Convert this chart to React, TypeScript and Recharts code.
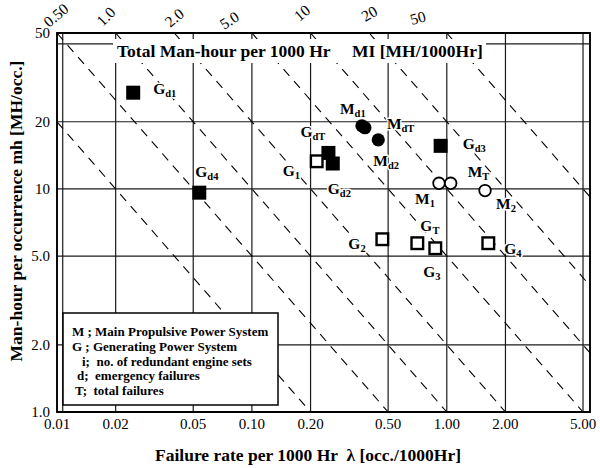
import React from 'react';
import {
  ScatterChart,
  Scatter,
  XAxis,
  YAxis,
  CartesianGrid,
  ReferenceLine,
  ReferenceDot,
  ReferenceArea,
} from 'recharts';

const FONT = '"Liberation Serif", "DejaVu Serif", serif';

// ---------- axes ----------
const xTicks = [0.01, 0.02, 0.05, 0.1, 0.2, 0.5, 1, 2, 5];
const xTickLabels = ['0.01', '0.02', '0.05', '0.10', '0.20', '0.50', '1.00', '2.00', '5.00'];
const yTicks = [1, 2, 5, 10, 20, 50];
const yTickLabels = ['1.0', '2.0', '5.0', '10', '20', '50'];
const xDomain: [number, number] = [0.01, 5.43];
const yDomain: [number, number] = [1, 50];

// ---------- iso-MI dashed lines (MI = lambda * mh) ----------
const miLines = [0.2, 0.5, 1, 2, 5, 10, 20, 50];
const miLabelValues = [0.5, 1, 2, 5, 10, 20, 50];
const miLabelTexts = ['0.50', '1.0', '2.0', '5.0', '10', '20', '50'];

// ---------- data: lambda [occ./1000Hr], mh [MH/occ.] ----------
const genEmergency = [
  { name: 'Gd1', lambda: 0.0246, mh: 27.0 },
  { name: 'Gd4', lambda: 0.0537, mh: 9.62 },
  { name: 'GdT', lambda: 0.247, mh: 14.5 },
  { name: 'Gd2', lambda: 0.26, mh: 13.0 },
  { name: 'Gd3', lambda: 0.93, mh: 15.6 },
];
const genTotal = [
  { name: 'G1', lambda: 0.215, mh: 13.3 },
  { name: 'G2', lambda: 0.467, mh: 5.95 },
  { name: 'GT', lambda: 0.706, mh: 5.71 },
  { name: 'G3', lambda: 0.873, mh: 5.42 },
  { name: 'G4', lambda: 1.633, mh: 5.71 },
];
const mainEmergency = [
  { name: 'Md1', lambda: 0.367, mh: 19.2 },
  { name: 'MdT', lambda: 0.38, mh: 18.8 },
  { name: 'Md2', lambda: 0.445, mh: 16.6 },
];
const mainTotal = [
  { name: 'M1', lambda: 0.912, mh: 10.6 },
  { name: 'MT', lambda: 1.047, mh: 10.6 },
  { name: 'M2', lambda: 1.571, mh: 9.83 },
];

const legendLines = [
  'M ; Main Propulsive Power System',
  'G ; Generating Power System',
  'i;  no. of redundant engine sets',
  'd;  emergency failures',
  'T;  total failures',
];

// ---------- styling (label placement relative to marker centre) ----------
const labelOffset: Record<string, [number, number]> = {
  Gd1: [20, 1], Gd4: [-4, -16], GdT: [-28, -16], Gd2: [-5, 30], Gd3: [22, 3],
  G1: [-34, 15], G2: [-34, 10], GT: [3, -12], G3: [-12, 29], G4: [16, 11],
  Md1: [-22, -12], MdT: [22, 1], Md2: [-5, 26],
  M1: [-24, 21], MT: [17, -6], M2: [11, 18],
};
const miLabelStyle: Record<string, { dx: number; dy: number; rot: number }> = {
  '0.50': { dx: -8, dy: -5, rot: -40 },
  '1.0': { dx: -13, dy: -6, rot: -45 },
  '2.0': { dx: -4, dy: -5, rot: -40 },
  '5.0': { dx: -28, dy: -3, rot: -32 },
  '10': { dx: -11, dy: -11, rot: -40 },
  '20': { dx: -4, dy: -11, rot: -30 },
  '50': { dx: -35, dy: -8, rot: -15 },
};

type Kind = 'fsq' | 'osq' | 'fc' | 'oc';

const makeShape = (kind: Kind) => (props: any) => {
  const { cx, cy, payload } = props;
  if (cx == null || cy == null || !payload) return <g />;
  const off = labelOffset[payload.name] || [10, 0];
  let mark: React.ReactNode = null;
  if (kind === 'fsq') mark = <rect x={cx - 7} y={cy - 7} width={14} height={14} fill="#000" />;
  if (kind === 'osq')
    mark = <rect x={cx - 5.8} y={cy - 5.8} width={11.6} height={11.6} fill="#fff" stroke="#000" strokeWidth={2.4} />;
  if (kind === 'fc') mark = <circle cx={cx} cy={cy} r={6.6} fill="#000" />;
  if (kind === 'oc') mark = <circle cx={cx} cy={cy} r={5.8} fill="#fff" stroke="#000" strokeWidth={1.8} />;
  const base = payload.name.slice(0, 1);
  const sub = payload.name.slice(1);
  return (
    <g>
      {mark}
      <text
        x={cx + off[0]}
        y={cy + off[1]}
        fontFamily={FONT}
        fontWeight="bold"
        fontSize={15.5}
        fill="#000"
        stroke="#fff"
        strokeWidth={3}
        paintOrder="stroke"
        strokeLinejoin="round"
      >
        {base}
        <tspan fontSize={10.5} dy={3}>
          {sub}
        </tspan>
      </text>
    </g>
  );
};

const miSegment = (mi: number) => {
  const x1 = Math.max(xDomain[0], mi / yDomain[1]);
  const x2 = Math.min(xDomain[1], mi / yDomain[0]);
  return [
    { x: x1, y: mi / x1 },
    { x: x2, y: mi / x2 },
  ];
};

const MiLabel = (text: string) => (props: any) => {
  const vb = props.viewBox || {};
  const cx = (vb.x || 0) + (vb.width || 0) / 2;
  const cy = (vb.y || 0) + (vb.height || 0) / 2;
  const s = miLabelStyle[text];
  const x = cx + s.dx;
  const y = cy + s.dy;
  return (
    <text
      x={x}
      y={y}
      transform={`rotate(${s.rot} ${x} ${y})`}
      fontFamily={FONT}
      fontSize={15.5}
      fill="#000"
    >
      {text}
    </text>
  );
};

const tickStyle = { fontFamily: FONT, fontSize: 15, fill: '#000' };

export default function App() {
  return (
    <div style={{ position: 'absolute', left: 0, top: 0, width: 600, height: 468, background: '#fff' }}>
      <ScatterChart width={600} height={468} margin={{ top: 33, right: 10, bottom: 0, left: 0 }}>
        <CartesianGrid stroke="#1a1a1a" strokeWidth={1.2} />
        <XAxis
          type="number"
          dataKey="lambda"
          scale="log"
          domain={xDomain}
          allowDataOverflow
          ticks={xTicks}
          interval={0}
          tickFormatter={(v: number) => xTickLabels[xTicks.indexOf(v)] ?? String(v)}
          height={56}
          axisLine={false}
          tickLine={false}
          tickSize={0}
          tickMargin={6}
          tick={tickStyle}
        />
        <YAxis
          type="number"
          dataKey="mh"
          scale="log"
          domain={yDomain}
          allowDataOverflow
          ticks={yTicks}
          interval={0}
          tickFormatter={(v: number) => yTickLabels[yTicks.indexOf(v)] ?? String(v)}
          width={57}
          axisLine={false}
          tickLine={false}
          tickSize={0}
          tickMargin={7}
          tick={tickStyle}
        />
        {/* inner frame lines */}
        <ReferenceLine x={0.0107} stroke="#1a1a1a" strokeWidth={1.2} ifOverflow="visible" />
        <ReferenceLine y={44.7} stroke="#1a1a1a" strokeWidth={1.2} ifOverflow="visible" />
        {miLines.map((mi) => (
          <ReferenceLine
            key={`mi-${mi}`}
            segment={miSegment(mi)}
            stroke="#000"
            strokeWidth={1.1}
            strokeDasharray="9 7"
            ifOverflow="visible"
          />
        ))}
        <ReferenceArea
          x1={xDomain[0]}
          x2={xDomain[1]}
          y1={yDomain[0]}
          y2={yDomain[1]}
          fill="none"
          fillOpacity={0}
          stroke="#000"
          strokeWidth={1.8}
          ifOverflow="visible"
        />
        {miLabelValues.map((mi, i) => (
          <ReferenceDot
            key={`mil-${mi}`}
            x={mi / yDomain[1]}
            y={yDomain[1]}
            r={0}
            fill="none"
            stroke="none"
            ifOverflow="visible"
            label={MiLabel(miLabelTexts[i])}
          />
        ))}
        <Scatter data={genEmergency} shape={makeShape('fsq')} isAnimationActive={false} />
        <Scatter data={mainEmergency} shape={makeShape('fc')} isAnimationActive={false} />
        <Scatter data={genTotal} shape={makeShape('osq')} isAnimationActive={false} />
        <Scatter data={mainTotal} shape={makeShape('oc')} isAnimationActive={false} />
      </ScatterChart>

      <svg
        width={600}
        height={468}
        style={{ position: 'absolute', left: 0, top: 0, pointerEvents: 'none' }}
        fontFamily={FONT}
      >
        {/* chart title inside plot */}
        <rect x={113} y={39} width={373} height={24} fill="#fff" />
        <text x={117} y={57} fontSize={17.5} fontWeight="bold" fill="#000">
          Total Man-hour per 1000 Hr
        </text>
        <text x={352} y={57} fontSize={17.5} fontWeight="bold" fill="#000">
          MI [MH/1000Hr]
        </text>

        {/* axis titles */}
        <text
          x={308}
          y={461}
          textAnchor="middle"
          fontSize={17.5}
          fontWeight="bold"
          fill="#000"
          style={{ whiteSpace: 'pre' }}
        >
          Failure rate per 1000 Hr  λ [occ./1000Hr]
        </text>
        <text
          x={0}
          y={0}
          transform="translate(22 211) rotate(-90)"
          textAnchor="middle"
          fontSize={17.5}
          fontWeight="bold"
          fill="#000"
        >
          Man-hour per occurrence mh [MH/occ.]
        </text>

        {/* legend box */}
        <rect x={63} y={313} width={215} height={92} fill="#fff" stroke="#000" strokeWidth={1.5} />
        {legendLines.map((t, i) => (
          <text
            key={t}
            x={i < 2 ? 72 : i === 2 ? 82 : i === 3 ? 77 : 75}
            y={336 + i * 14.8}
            fontSize={13}
            fontWeight="bold"
            fill="#000"
            style={{ whiteSpace: 'pre' }}
          >
            {t}
          </text>
        ))}
      </svg>
    </div>
  );
}
